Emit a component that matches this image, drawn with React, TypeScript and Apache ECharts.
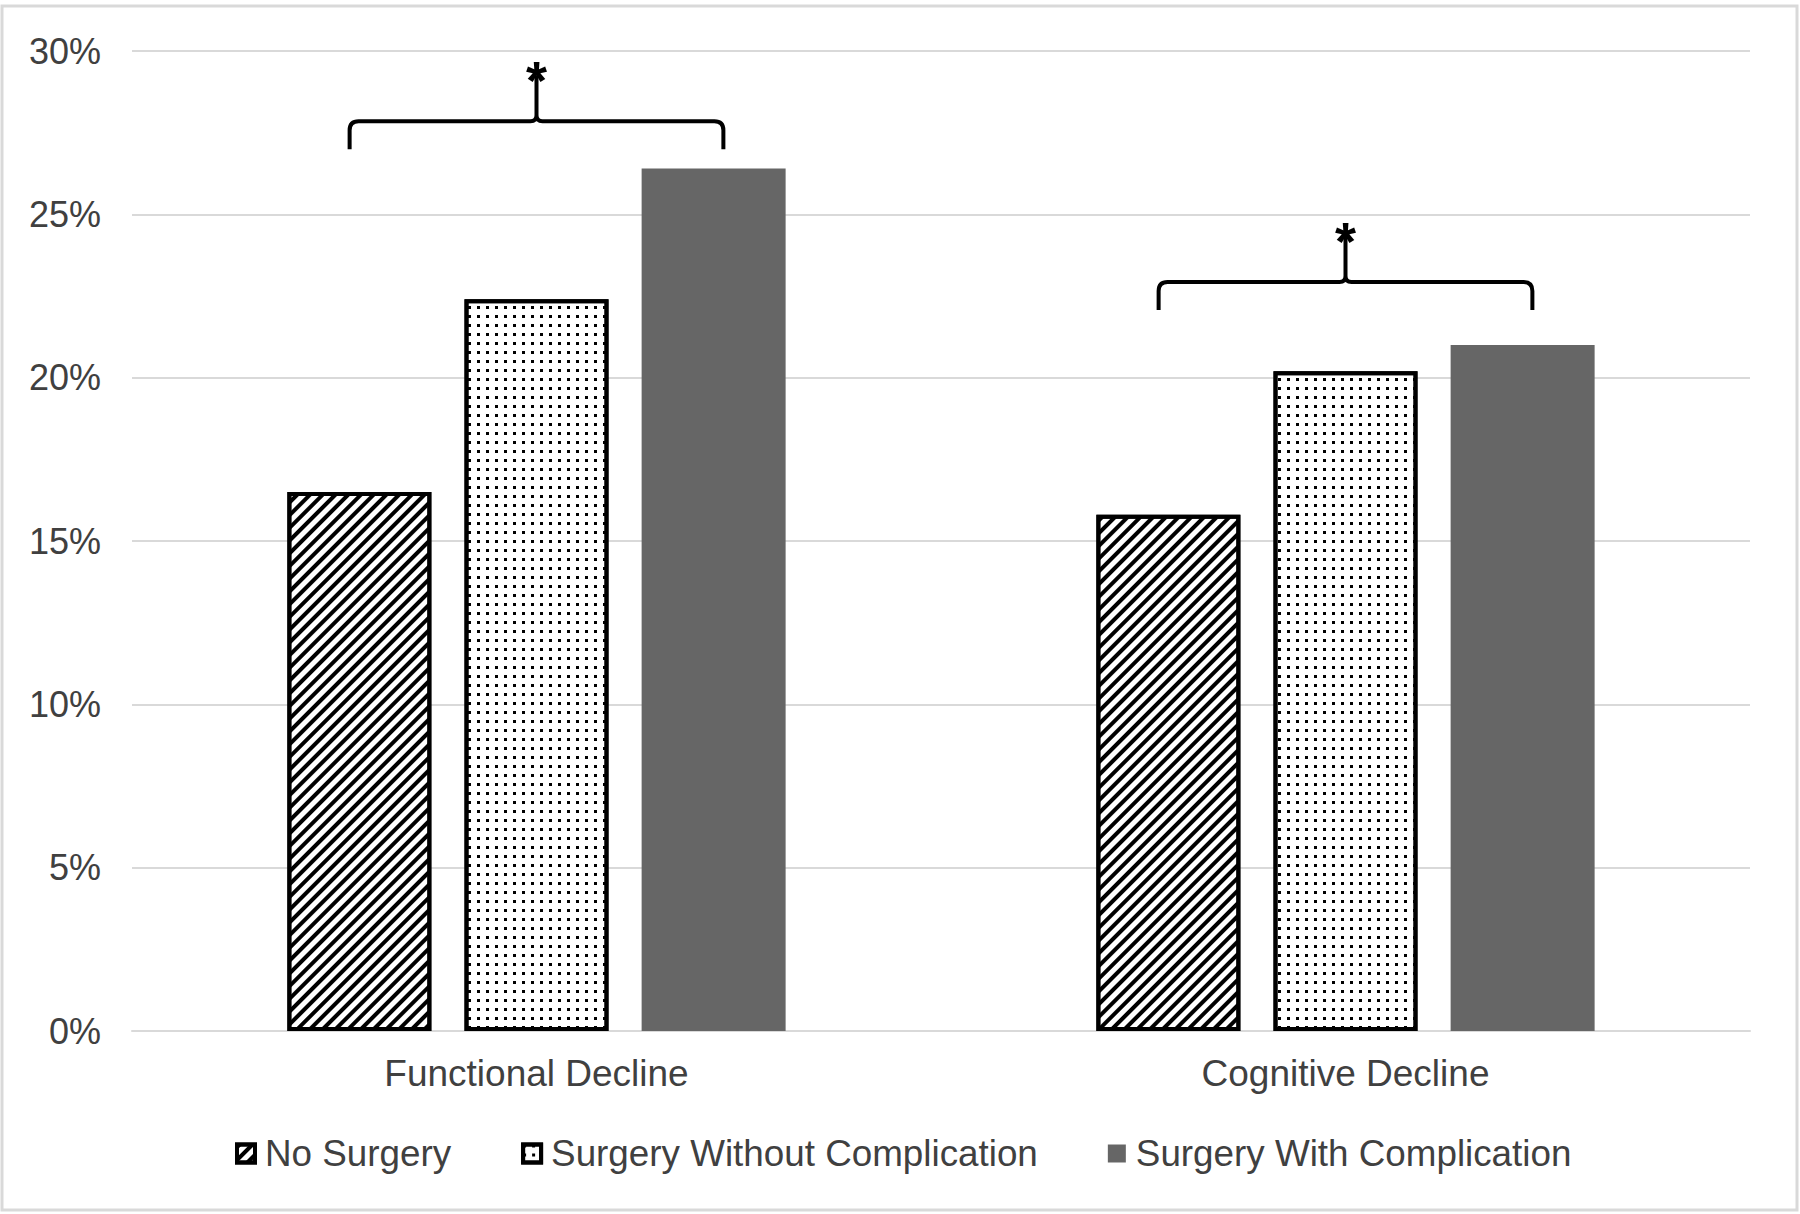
import React, { useEffect, useRef } from "react";
import * as echarts from "echarts";

const categories = ["Functional Decline", "Cognitive Decline"];
const seriesNames = ["No Surgery", "Surgery Without Complication", "Surgery With Complication"];
const noSurgery = [16.5, 15.8];
const surgeryWithout = [22.4, 20.2];
const surgeryWith = [26.4, 21.0];
const yMin = 0;
const yMax = 30;
const yStep = 5;
const bracketLevel = [27.85, 22.93];
const bracketMark = ["*", "*"];

const FONT = "'Liberation Sans', Arial, Helvetica, sans-serif";
const TEXT = "#404040";
const GRID = "#d9d9d9";

const hatchDecal = {
  symbol: "rect",
  symbolSize: 1,
  color: "#000000",
  dashArrayX: [1, 0],
  dashArrayY: [3.6, 4.4],
  rotation: -Math.PI / 4,
};

const dotDecal = {
  symbol: "rect",
  symbolSize: 1,
  color: "#000000",
  dashArrayX: [2.2, 6],
  dashArrayY: [2.2, 6],
  rotation: 0,
};

export default function App() {
  const ref = useRef<HTMLDivElement>(null);

  useEffect(() => {
    if (!ref.current) return;
    const chart = echarts.init(ref.current, null, { renderer: "svg" });

    const bracketData = categories.map((_, i) => [i, bracketLevel[i], i]);

    const option: any = {
      animation: false,
      backgroundColor: "#ffffff",
      textStyle: { fontFamily: FONT },
      grid: { left: 132, right: 50, top: 51, bottom: 183, containLabel: false },
      graphic: [
        {
          type: "rect",
          shape: { x: 2, y: 6, width: 1795, height: 1204 },
          style: { fill: "none", stroke: GRID, lineWidth: 3 },
          silent: true,
          z: -1,
        },
      ],
      legend: {
        data: [
          { name: seriesNames[0], itemStyle: { borderColor: "#000000", borderWidth: 4 } },
          { name: seriesNames[1], itemStyle: { borderColor: "#000000", borderWidth: 4 } },
          { name: seriesNames[2], itemStyle: { borderWidth: 0 } },
        ],
        left: 235,
        top: 1135,
        padding: 0,
        itemWidth: 18,
        itemHeight: 18,
        itemGap: 70,
        icon: "rect",
        textStyle: { fontSize: 36.8, color: TEXT, fontFamily: FONT, padding: [0, 0, 0, 5] },
      },
      xAxis: {
        type: "category",
        data: categories,
        axisTick: { show: false },
        axisLine: { show: true, lineStyle: { color: GRID, width: 2 } },
        axisLabel: { fontSize: 37, color: TEXT, fontFamily: FONT, margin: 24 },
      },
      yAxis: {
        type: "value",
        min: yMin,
        max: yMax,
        interval: yStep,
        axisLine: { show: false },
        axisTick: { show: false },
        splitLine: { lineStyle: { color: GRID, width: 2 } },
        axisLabel: { formatter: "{value}%", fontSize: 36, color: TEXT, fontFamily: FONT, margin: 31 },
      },
      series: [
        {
          name: seriesNames[0],
          type: "bar",
          data: noSurgery,
          barWidth: "17.8%",
          barGap: "23%",
          itemStyle: {
            color: "#ffffff",
            borderColor: "#000000",
            borderWidth: 4,
            decal: hatchDecal,
          },
        },
        {
          name: seriesNames[1],
          type: "bar",
          data: surgeryWithout,
          barWidth: "17.8%",
          barGap: "23%",
          itemStyle: {
            color: "#ffffff",
            borderColor: "#000000",
            borderWidth: 4,
            decal: dotDecal,
          },
        },
        {
          name: seriesNames[2],
          type: "bar",
          data: surgeryWith,
          barWidth: "17.8%",
          barGap: "23%",
          itemStyle: { color: "#666666", borderWidth: 0 },
        },
        {
          type: "custom",
          name: "brackets",
          silent: true,
          z: 10,
          data: bracketData,
          encode: { x: 0, y: 1 },
          renderItem: (params: any, api: any) => {
            const ci = api.value(0);
            const lvl = api.value(1);
            const idx = api.value(2);
            const pt = api.coord([ci, lvl]);
            const cx = pt[0];
            const cy = pt[1];
            const band = api.size([1, 0])[0];
            const hw = band * 0.231;
            const drop = 28;
            const rise = 46;
            const r = 9;
            const rc = 6;
            const x0 = cx - hw;
            const x1 = cx + hw;
            const yEnd = cy + drop;
            const yTop = cy - rise;
            const d =
              `M ${x0} ${yEnd} L ${x0} ${cy + r} Q ${x0} ${cy} ${x0 + r} ${cy} ` +
              `L ${cx - rc} ${cy} Q ${cx} ${cy} ${cx} ${cy - rc} L ${cx} ${yTop} ` +
              `M ${cx} ${cy - rc} Q ${cx} ${cy} ${cx + rc} ${cy} ` +
              `L ${x1 - r} ${cy} Q ${x1} ${cy} ${x1} ${cy + r} L ${x1} ${yEnd}`;
            return {
              type: "group",
              children: [
                {
                  type: "path",
                  shape: { pathData: d },
                  style: { fill: "none", stroke: "#000000", lineWidth: 4, lineJoin: "round" },
                },
                {
                  type: "text",
                  x: cx,
                  y: yTop + 5,
                  style: {
                    text: bracketMark[idx],
                    fontSize: 54,
                    fontWeight: "bold",
                    fontFamily: FONT,
                    fill: "#000000",
                    align: "center",
                    verticalAlign: "middle",
                  },
                },
              ],
            };
          },
        },
      ],
    };

    chart.setOption(option);
    return () => {
      chart.dispose();
    };
  }, []);

  return (
    <div
      ref={ref}
      style={{ position: "absolute", left: 0, top: 0, width: 1800, height: 1214, background: "#ffffff" }}
    />
  );
}
